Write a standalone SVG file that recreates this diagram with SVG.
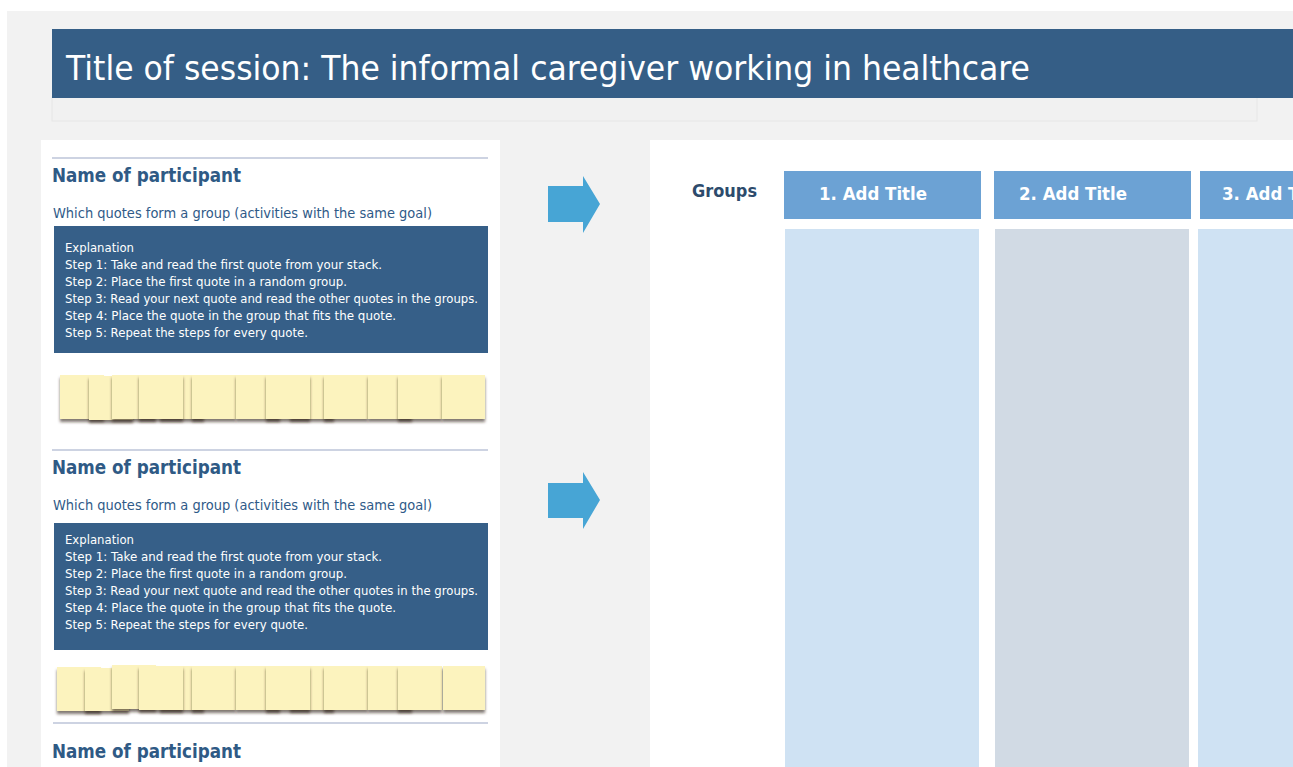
<svg xmlns="http://www.w3.org/2000/svg" width="1293" height="767" viewBox="0 0 1293 767">
<defs>
<style>
.t{font-family:"DejaVu Sans","Liberation Sans",sans-serif}
.title{font-size:34px;fill:#ffffff}
.name{font-size:19px;font-weight:bold;fill:#2f5a85}
.q{font-size:14px;fill:#2f5a88}
.ex{font-size:13px;fill:#ffffff}
.grp{font-size:18px;font-weight:bold;fill:#2d4b6c}
.hd{font-size:18px;font-weight:bold;fill:#ffffff}
.note{fill:#fcf3be;filter:url(#sh)}
.arrow{fill:#47a5d5}
.sep{stroke:#bcc5d8;stroke-width:1.5}
</style>
<filter id="sh" x="-20%" y="-20%" width="150%" height="160%">
<feDropShadow dx="0" dy="3" stdDeviation="1.8" flood-color="#2a2010" flood-opacity="0.6"/>
</filter>
<clipPath id="edge"><rect x="0" y="0" width="1293" height="767"/></clipPath>
</defs>
<rect x="0" y="0" width="1293" height="767" fill="#ffffff"/>
<rect x="7" y="11" width="1286" height="756" fill="#f2f2f2"/>
<g id="title">
<rect x="52" y="97" width="1205" height="24" fill="#f1f1f1" stroke="#e6e6e6" stroke-width="1"/>
<rect x="52" y="29" width="1241" height="69" fill="#355e86"/>
<text class="t title" x="66" y="80" textLength="964" lengthAdjust="spacingAndGlyphs">Title of session: The informal caregiver working in healthcare</text>
</g>
<g id="left-panel">
<rect x="41" y="140" width="459" height="627" fill="#ffffff"/>
</g>
<g id="participant-1">
<line class="sep" x1="52" y1="158" x2="488" y2="158"/>
<text class="t name" x="52" y="182" textLength="189" lengthAdjust="spacingAndGlyphs">Name of participant</text>
<text class="t q" x="53" y="218" textLength="379" lengthAdjust="spacingAndGlyphs">Which quotes form a group (activities with the same goal)</text>
<rect x="54" y="226" width="434" height="127" fill="#365f88"/>
<text class="t ex" x="65" y="252" textLength="69" lengthAdjust="spacingAndGlyphs">Explanation</text>
<text class="t ex" x="65" y="269" textLength="317" lengthAdjust="spacingAndGlyphs">Step 1: Take and read the first quote from your stack.</text>
<text class="t ex" x="65" y="286" textLength="282" lengthAdjust="spacingAndGlyphs">Step 2: Place the first quote in a random group.</text>
<text class="t ex" x="65" y="303" textLength="413" lengthAdjust="spacingAndGlyphs">Step 3: Read your next quote and read the other quotes in the groups.</text>
<text class="t ex" x="65" y="320" textLength="331" lengthAdjust="spacingAndGlyphs">Step 4: Place the quote in the group that fits the quote.</text>
<text class="t ex" x="65" y="337" textLength="243" lengthAdjust="spacingAndGlyphs">Step 5: Repeat the steps for every quote.</text>
<g id="notes-1">
<rect class="note" x="160" y="375" width="44" height="44"/>
<rect class="note" x="290" y="375" width="44" height="44"/>
<rect class="note" x="60" y="375" width="44" height="44"/>
<rect class="note" x="89" y="376" width="44" height="44"/>
<rect class="note" x="112" y="375" width="44" height="44"/>
<rect class="note" x="139" y="375" width="44" height="44"/>
<rect class="note" x="192" y="375" width="44" height="44"/>
<rect class="note" x="236" y="375" width="44" height="44"/>
<rect class="note" x="266" y="375" width="44" height="44"/>
<rect class="note" x="324" y="375" width="44" height="44"/>
<rect class="note" x="368" y="375" width="44" height="44"/>
<rect class="note" x="398" y="375" width="44" height="44"/>
<rect class="note" x="442" y="375" width="43" height="44"/>
</g>
</g>
<g id="participant-2">
<line class="sep" x1="52" y1="450" x2="488" y2="450"/>
<text class="t name" x="52" y="474" textLength="189" lengthAdjust="spacingAndGlyphs">Name of participant</text>
<text class="t q" x="53" y="510" textLength="379" lengthAdjust="spacingAndGlyphs">Which quotes form a group (activities with the same goal)</text>
<rect x="54" y="523" width="434" height="127" fill="#365f88"/>
<text class="t ex" x="65" y="544" textLength="69" lengthAdjust="spacingAndGlyphs">Explanation</text>
<text class="t ex" x="65" y="561" textLength="317" lengthAdjust="spacingAndGlyphs">Step 1: Take and read the first quote from your stack.</text>
<text class="t ex" x="65" y="578" textLength="282" lengthAdjust="spacingAndGlyphs">Step 2: Place the first quote in a random group.</text>
<text class="t ex" x="65" y="595" textLength="413" lengthAdjust="spacingAndGlyphs">Step 3: Read your next quote and read the other quotes in the groups.</text>
<text class="t ex" x="65" y="612" textLength="331" lengthAdjust="spacingAndGlyphs">Step 4: Place the quote in the group that fits the quote.</text>
<text class="t ex" x="65" y="629" textLength="243" lengthAdjust="spacingAndGlyphs">Step 5: Repeat the steps for every quote.</text>
<g id="notes-2">
<rect class="note" x="160" y="666" width="44" height="44"/>
<rect class="note" x="290" y="666" width="44" height="44"/>
<rect class="note" x="57" y="667" width="44" height="44"/>
<rect class="note" x="85" y="668" width="44" height="43"/>
<rect class="note" x="112" y="665" width="44" height="44"/>
<rect class="note" x="139" y="666" width="44" height="44"/>
<rect class="note" x="192" y="666" width="44" height="44"/>
<rect class="note" x="236" y="666" width="44" height="44"/>
<rect class="note" x="266" y="666" width="44" height="44"/>
<rect class="note" x="324" y="666" width="44" height="44"/>
<rect class="note" x="368" y="666" width="44" height="44"/>
<rect class="note" x="398" y="666" width="44" height="44"/>
<rect class="note" x="443" y="666" width="42" height="44"/>
</g>
</g>
<g id="participant-3">
<line class="sep" x1="53" y1="723" x2="488" y2="723"/>
<text class="t name" x="52" y="758" textLength="189" lengthAdjust="spacingAndGlyphs">Name of participant</text>
</g>
<g id="connectors">
<polygon class="arrow" points="548,186 583,186 583,176 600,204 583,233 583,222 548,222"/>
<polygon class="arrow" points="548,483 583,483 583,472 600,500 583,529 583,518 548,518"/>
</g>
<g id="right-panel">
<rect x="650" y="140" width="643" height="627" fill="#ffffff"/>
<text class="t grp" x="692" y="197" textLength="65" lengthAdjust="spacingAndGlyphs">Groups</text>
</g>
<g id="group-1">
<rect x="784" y="171" width="197" height="48" fill="#6ca2d4"/>
<text class="t hd" x="819" y="200" textLength="108" lengthAdjust="spacingAndGlyphs">1. Add Title</text>
<rect x="785" y="229" width="194" height="538" fill="#cfe2f3"/>
</g>
<g id="group-2">
<rect x="994" y="171" width="197" height="48" fill="#6ca2d4"/>
<text class="t hd" x="1019" y="200" textLength="108" lengthAdjust="spacingAndGlyphs">2. Add Title</text>
<rect x="995" y="229" width="194" height="538" fill="#d1dae4"/>
</g>
<g id="group-3" clip-path="url(#edge)">
<rect x="1200" y="171" width="93" height="48" fill="#6ca2d4"/>
<text class="t hd" x="1222" y="200" textLength="108" lengthAdjust="spacingAndGlyphs">3. Add Title</text>
<rect x="1198" y="229" width="95" height="538" fill="#cfe2f3"/>
</g>
</svg>
